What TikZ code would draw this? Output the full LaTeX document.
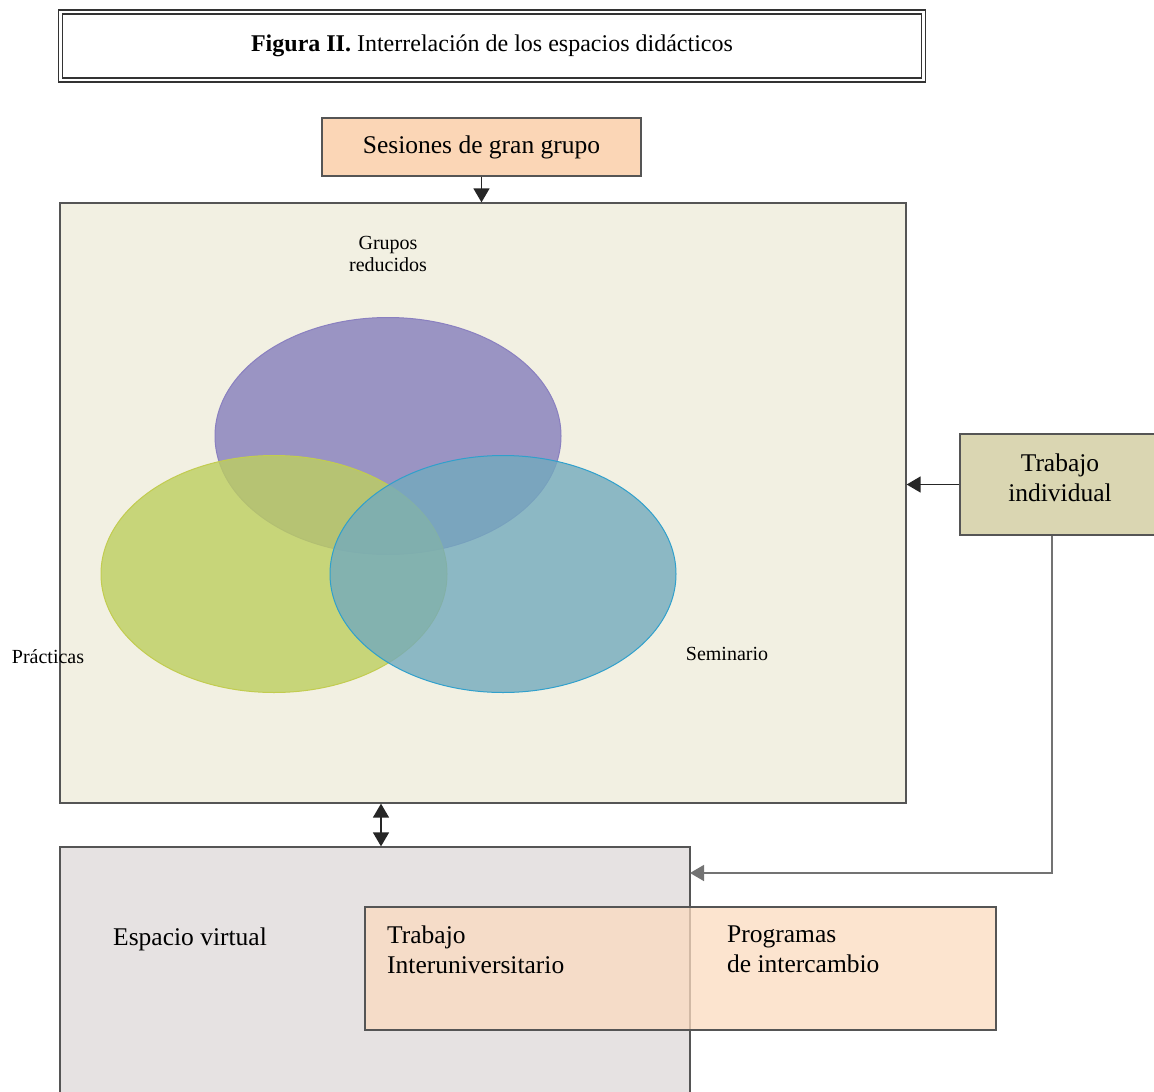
\documentclass[tikz,border=0pt]{standalone}
\usepackage{fontspec}
\setmainfont{Liberation Serif}
\usetikzlibrary{arrows.meta,shapes.geometric,calc}
\definecolor{bgcream}{HTML}{F2F0E2}
\definecolor{peach}{HTML}{FBD6B6}
\definecolor{khaki}{HTML}{DAD6B2}
\definecolor{greyv}{HTML}{E6E2E2}
\definecolor{orangeb}{HTML}{FBDBC0}
\definecolor{purpf}{HTML}{857DBC}
\definecolor{purpd}{HTML}{8A80C0}
\definecolor{greenf}{HTML}{BDCF5F}
\definecolor{greend}{HTML}{C2CC50}
\definecolor{bluef}{HTML}{73AABD}
\definecolor{blued}{HTML}{30A0CC}
\definecolor{edge}{HTML}{555555}
\tikzset{
  box/.style={draw=edge, line width=1.3pt, rectangle, inner sep=0pt},
  maintxt/.style={font=\fontsize{25.5}{30}\selectfont, align=center, inner sep=0pt},
  smalltxt/.style={font=\fontsize{20}{22}\selectfont, align=center, inner sep=0pt},
  arr/.style={draw=black!85, line width=1.5pt, -{Triangle[width=16pt,length=14pt]}},
  darr/.style={draw=black!85, line width=1.5pt, {Triangle[width=16pt,length=14pt]}-{Triangle[width=16pt,length=14pt]}},
  thinarr/.style={draw=black!55, line width=1.5pt, -{Triangle[width=16pt,length=14pt]}},
  venn/.style={ellipse, inner sep=0pt, line width=1pt, fill opacity=0.8, minimum width=346pt, minimum height=237pt}
}
\begin{document}
\begin{tikzpicture}[x=1pt,y=-1pt]
\useasboundingbox[fill=white] (0,0) rectangle (1154,1092);
% title
\node[draw=black!80, line width=1.4pt, double=white, double distance=2.4pt,
      minimum width=863pt, minimum height=68pt, inner sep=0pt,
      font=\fontsize{24}{28}\selectfont] (title) at (492,46)
      {\textbf{Figura II.} Interrelación de los espacios didácticos};
% main boxes
\node[box, fill=bgcream, minimum width=846pt, minimum height=600pt] (main) at (483,503) {};
\node[box, fill=peach, minimum width=319pt, minimum height=58pt, maintxt] (ses) at (481.5,147) {Sesiones de gran grupo};
\node[box, fill=khaki, minimum width=200pt, minimum height=101pt] (ind) at (1060,484.5) {};
\node[maintxt] (indt) at (1060,478) {Trabajo\\individual};
\node[box, fill=greyv, minimum width=630pt, minimum height=253pt] (virt) at (375,973.5) {};
\node[box, fill=orangeb, fill opacity=0.75, draw opacity=1, minimum width=631pt, minimum height=123pt] (inter) at (680.5,968.5) {};
\node[maintxt, anchor=west] (virtt) at (113,939) {Espacio virtual};
\node[maintxt, align=left, anchor=north west] (interl) at (387,926) {Trabajo\\Interuniversitario};
\node[maintxt, align=left, anchor=north west] (interr) at (727,926) {Programas\\de intercambio};
% venn
\node[venn, draw=purpd, fill=purpf] (grp) at (388,436) {};
\node[venn, draw=greend, fill=greenf] (pra) at (274,574) {};
\node[venn, draw=blued, fill=bluef] (sem) at (503,574) {};
\node[smalltxt] (grpt) at (388,254) {Grupos\\reducidos};
\node[smalltxt] (prat) at (48,657) {Prácticas};
\node[smalltxt] (semt) at (727,654) {Seminario};
% connectors
\draw[arr] (ses.south) -- (ses.south |- main.north);
\draw[arr] (ind.west) -- (ind.west -| main.east);
\coordinate (turn) at (1052,873);
\coordinate (vin) at (690,873);
\draw[thinarr] (ind.south -| turn) -- (turn) -- (vin);
\coordinate (dx) at (381,0);
\draw[darr] (main.south -| dx) -- (virt.north -| dx);
\end{tikzpicture}
\end{document}
